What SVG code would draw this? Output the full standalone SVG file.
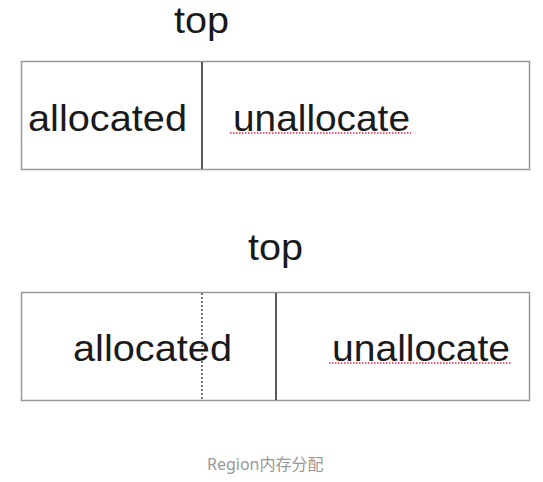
<svg xmlns="http://www.w3.org/2000/svg" width="543" height="482" viewBox="0 0 543 482">
<style>
.box{fill:#fff;stroke:#999;stroke-width:1.5}
.div{stroke:#222;stroke-width:1.5}
.dot{stroke:#222;stroke-width:1.2;stroke-dasharray:2 2}
.t{font-family:"Liberation Sans",Arial,sans-serif;fill:#1a1a1a}
.big{font-size:37px}
.sq{stroke:#e8264a;stroke-width:1.5;stroke-dasharray:1.5 1.5;fill:none}
.cap{font-family:"Noto Sans","Noto Sans CJK SC",sans-serif;font-size:16px;fill:#999}
</style>
<rect width="543" height="482" fill="#fff"/>
<g id="region1">
<rect class="box" x="21.5" y="61.5" width="508" height="108"/>
<line class="div" x1="202" y1="62" x2="202" y2="169"/>
<text class="t" x="174" y="33" font-size="36" textLength="55" lengthAdjust="spacingAndGlyphs">top</text>
<text class="t big" x="28" y="131" textLength="159" lengthAdjust="spacingAndGlyphs">allocated</text>
<text class="t big" x="233" y="131" textLength="177" lengthAdjust="spacingAndGlyphs">unallocate</text>
<line class="sq" x1="230" y1="133" x2="411" y2="133"/>
</g>
<g id="region2">
<rect class="box" x="21.5" y="292.5" width="508" height="108"/>
<line class="dot" x1="202" y1="293" x2="202" y2="400"/>
<line class="div" x1="276" y1="293" x2="276" y2="400"/>
<text class="t big" x="248" y="260" textLength="55" lengthAdjust="spacingAndGlyphs">top</text>
<text class="t big" x="73" y="361" textLength="159" lengthAdjust="spacingAndGlyphs">allocated</text>
<text class="t big" x="332" y="361" textLength="178" lengthAdjust="spacingAndGlyphs">unallocate</text>
<line class="sq" x1="329" y1="363" x2="512" y2="363"/>
</g>
<g id="connectors"></g>
<text class="cap" x="207" y="470">Region内存分配</text>
</svg>
